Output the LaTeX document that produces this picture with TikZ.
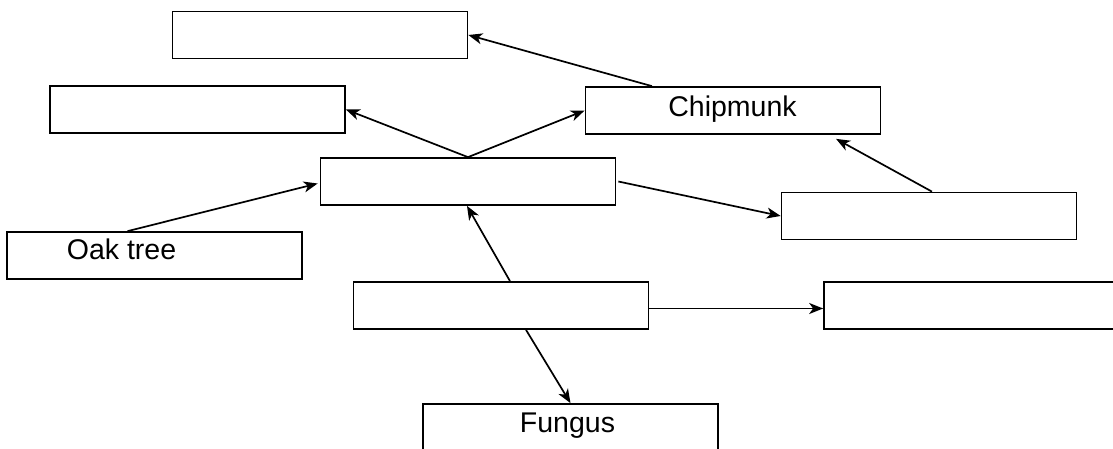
\documentclass[tikz,border=0pt]{standalone}
\usepackage{fontspec}
\setmainfont{Liberation Sans}
\usepackage{tikz}
\usetikzlibrary{calc}
\usetikzlibrary{arrows.meta}
\tikzset{
    box/.style={draw, minimum width=295bp, minimum height=47bp, inner sep=0pt},
    lbl/.style={inner sep=0pt, font=\fontsize{28.5bp}{32bp}\selectfont}
}

\begin{document}
\begin{tikzpicture}[x=1bp, y=-1bp, line width=1.7bp, >={Stealth[length=14bp,width=11bp,inset=4bp]}]
\useasboundingbox (0,0) rectangle (1113,449);
\clip (0,0) rectangle (1113,449);
\foreach \x/\y/\p in {320/35/top, 197.5/109.5/lefttop, 733/110.5/chip, 468/181.5/mid, 929/216/right, 154.5/255.5/oak, 501/305.5/low, 971.5/305.5/lowright, 570.5/427.5/fungus}{
    \node[box] (\p) at (\x,\y) {};
}
\node (chiptext) at (732.5,117)[lbl, anchor=base] {Chipmunk};
\node (oaktext) at (66,260)[lbl, anchor=base west] {Oak tree};
\node (fungustext) at (567.5,433)[lbl, anchor=base] {Fungus};
\draw[->] ($(chip.north)+(-81,0)$) -- (top.east);
\draw[->] (mid.north) -- (lefttop.east);
\draw[->] (mid.north) -- (chip.west);
\draw[->] ($(right.north)+(3,0)$) -- ($(chip.south)+(103,4)$);
\draw[->] ($(mid.east)+(2,0)$) -- (right.west);
\draw[->] ($(oak.north)+(-27,0)$) -- ($(mid.west)+(-2,2)$);
\draw[->] ($(low.north)+(9,0)$) -- ($(mid.south)+(-1,0)$);
\draw[->] ($(low.east)+(0,3)$) -- ($(lowright.west)+(0,3)$);
\draw[->] ($(low.south)+(25,0)$) -- (fungus.north);
\end{tikzpicture}
\end{document}
